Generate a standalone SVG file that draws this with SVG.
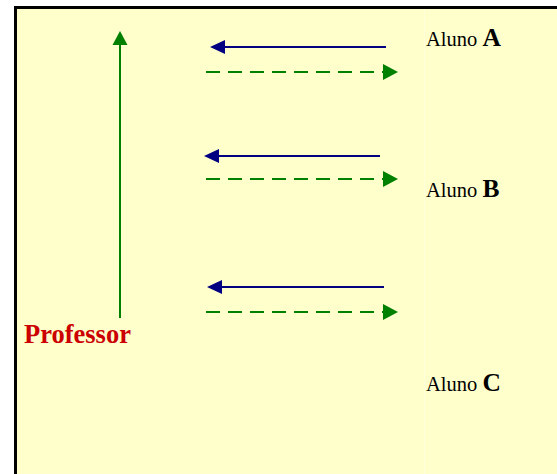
<svg xmlns="http://www.w3.org/2000/svg" width="557" height="474" viewBox="0 0 557 474">
  <style>
    .blue { stroke: #000080; stroke-width: 2; fill: none; }
    .green { stroke: #008000; stroke-width: 2; fill: none; }
    .dash { stroke-dasharray: 14 8; }
    .lbl { font-family: "Liberation Serif", "Times New Roman", serif; font-size: 20.5px; fill: #000; }
    .big { font-weight: bold; font-size: 25.5px; }
    .prof { font-family: "Liberation Serif", "Times New Roman", serif; font-size: 26.5px; font-weight: bold; fill: #CC0000; }
  </style>
  <defs>
    <marker id="hb" markerUnits="userSpaceOnUse" markerWidth="16" markerHeight="15" refX="0" refY="7" orient="auto" overflow="visible">
      <path d="M0,0 L15,7 L0,14 z" fill="#000080"/>
    </marker>
    <marker id="hg" markerUnits="userSpaceOnUse" markerWidth="16" markerHeight="17" refX="0" refY="8" orient="auto" overflow="visible">
      <path d="M0,0 L15,8 L0,16 z" fill="#008000"/>
    </marker>
    <marker id="hv" markerUnits="userSpaceOnUse" markerWidth="15" markerHeight="16" refX="0" refY="7.5" orient="auto" overflow="visible">
      <path d="M0,0 L14,7.5 L0,15 z" fill="#008000"/>
    </marker>
  </defs>
  <rect x="0" y="0" width="557" height="474" fill="#FFFFFF"/>
  <rect x="15.5" y="7.5" width="560" height="480" fill="#FFFFCC" stroke="#000" stroke-width="3"/>
  <line x1="424.5" y1="9" x2="424.5" y2="474" stroke="#FFFFDA" stroke-width="1"/>

  <g id="connectors">
    <line class="green" x1="120" y1="318" x2="120" y2="45" marker-end="url(#hv)"/>
    <line class="blue" x1="386" y1="47" x2="225" y2="47" marker-end="url(#hb)"/>
    <line class="green dash" x1="206" y1="72" x2="383" y2="72" marker-end="url(#hg)"/>
    <line class="blue" x1="380" y1="156" x2="219" y2="156" marker-end="url(#hb)"/>
    <line class="green dash" x1="206" y1="179" x2="383" y2="179" marker-end="url(#hg)"/>
    <line class="blue" x1="384" y1="287" x2="222" y2="287" marker-end="url(#hb)"/>
    <line class="green dash" x1="206" y1="312" x2="383" y2="312" marker-end="url(#hg)"/>
  </g>

  <g id="professor">
    <text class="prof" x="24" y="343">Professor</text>
  </g>
  <g id="alunoA">
    <text class="lbl" x="426" y="46">Aluno <tspan class="big">A</tspan></text>
  </g>
  <g id="alunoB">
    <text class="lbl" x="426" y="197">Aluno <tspan class="big">B</tspan></text>
  </g>
  <g id="alunoC">
    <text class="lbl" x="426" y="391">Aluno <tspan class="big">C</tspan></text>
  </g>
</svg>
